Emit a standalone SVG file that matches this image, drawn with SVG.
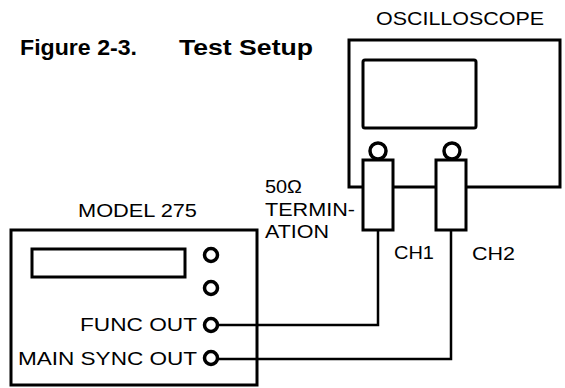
<svg xmlns="http://www.w3.org/2000/svg" width="565" height="388" viewBox="0 0 565 388">
<style>
.t{font-family:"Liberation Sans",Arial,sans-serif;font-size:18px;fill:#000}
.b{font-family:"Liberation Sans",Arial,sans-serif;font-size:22px;font-weight:bold;fill:#000}
.box{fill:#fff;stroke:#000;stroke-width:3}
.knob{fill:#fff;stroke:#000;stroke-width:3.5}
.wire{fill:none;stroke:#000;stroke-width:2.5}
</style>
<rect width="565" height="388" fill="#fff"/>
<g id="title">
<text class="b" x="20" y="55" textLength="117" lengthAdjust="spacingAndGlyphs">Figure 2-3.</text>
<text class="b" x="179" y="55" textLength="134" lengthAdjust="spacingAndGlyphs">Test Setup</text>
</g>
<g id="oscilloscope">
<text class="t" x="376" y="25" textLength="168" lengthAdjust="spacingAndGlyphs">OSCILLOSCOPE</text>
<rect class="box" x="349" y="40" width="211" height="147"/>
<rect class="box" x="363" y="60" width="113" height="68" rx="2"/>
</g>
<g id="ch1-probe">
<circle class="knob" cx="378" cy="151" r="8"/>
<rect class="box" x="363" y="160" width="30" height="70"/>
<text class="t" x="394" y="259" textLength="40" lengthAdjust="spacingAndGlyphs">CH1</text>
</g>
<g id="ch2-probe">
<circle class="knob" cx="452" cy="151" r="8"/>
<rect class="box" x="436" y="160" width="30" height="70"/>
<text class="t" x="472" y="260" textLength="43" lengthAdjust="spacingAndGlyphs">CH2</text>
</g>
<g id="termination">
<text class="t" x="265" y="193" textLength="37" lengthAdjust="spacingAndGlyphs">50Ω</text>
<text class="t" x="265" y="216" textLength="90" lengthAdjust="spacingAndGlyphs">TERMIN-</text>
<text class="t" x="265" y="238" textLength="64" lengthAdjust="spacingAndGlyphs">ATION</text>
</g>
<g id="model275">
<text class="t" x="78" y="217" textLength="119" lengthAdjust="spacingAndGlyphs">MODEL 275</text>
<rect class="box" x="11" y="230" width="246" height="155"/>
<rect class="box" x="32" y="249" width="153" height="28"/>
<circle class="knob" cx="211" cy="255" r="6.5"/>
<circle class="knob" cx="211" cy="288" r="6.5"/>
<text class="t" x="80" y="331" textLength="117" lengthAdjust="spacingAndGlyphs">FUNC OUT</text>
<text class="t" x="18" y="365" textLength="179" lengthAdjust="spacingAndGlyphs">MAIN SYNC OUT</text>
</g>
<g id="connectors">
<polyline class="wire" points="378,230 378,325 218,325"/>
<polyline class="wire" points="451,230 451,359 218,359"/>
</g>
<g id="outputs">
<circle class="knob" cx="211" cy="325" r="6.5"/>
<circle class="knob" cx="211" cy="358" r="6.5"/>
</g>
</svg>
